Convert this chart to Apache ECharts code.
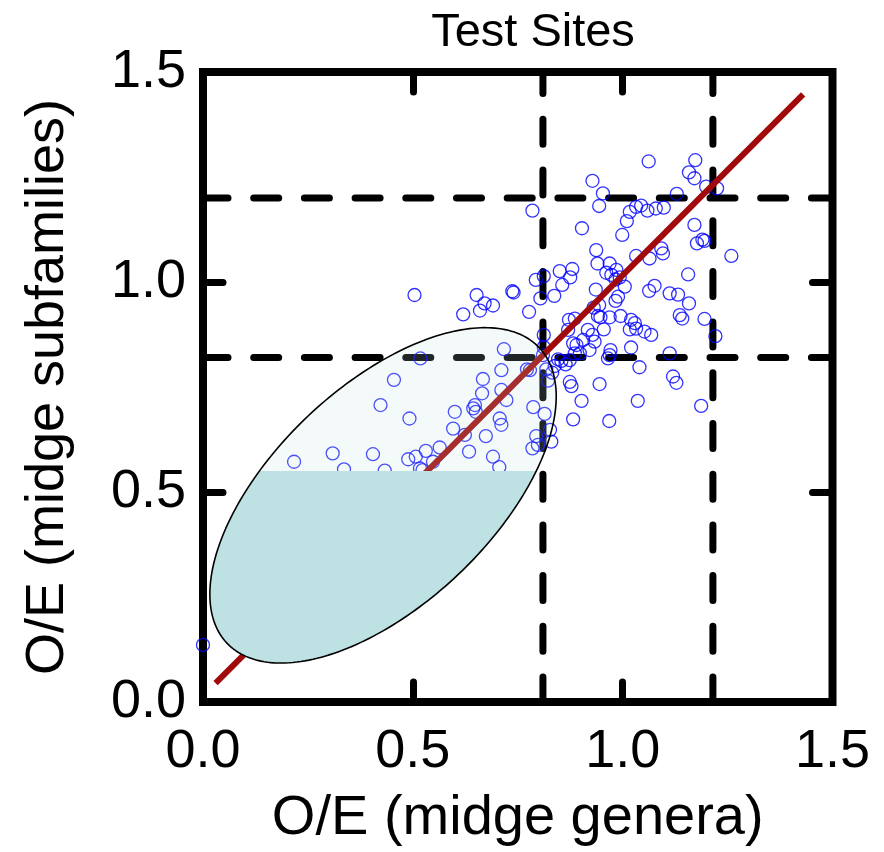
<!DOCTYPE html>
<html>
<head>
<meta charset="utf-8">
<script src="https://cdn.jsdelivr.net/npm/echarts@6/dist/echarts.min.js"></script>
<style>
html,body{margin:0;padding:0;background:#fff;}
#chart{width:884px;height:852px;}
</style>
</head>
<body>
<div id="chart"></div>
<script>
// ---- data ----
const chartTitle = 'Test Sites';
const xAxisName = 'O/E (midge genera)';
const yAxisName = 'O/E (midge subfamilies)';
const axisTicks = [0, 0.5, 1.0, 1.5];

const siteGenera = [
  0.000,0.217,0.309,0.336,0.405,0.433,0.423,0.455,0.492,0.489,
  0.507,0.517,0.523,0.548,0.531,0.564,0.518,0.596,0.600,0.624,
  0.634,0.644,0.648,0.650,0.665,0.667,0.674,0.691,0.706,0.707,
  0.711,0.711,0.711,0.717,0.723,0.779,0.772,0.787,0.785,0.794,
  0.798,0.814,0.827,0.830,0.818,0.832,0.838,0.822,0.810,0.812,
  0.812,0.854,0.846,0.864,0.874,0.874,0.878,0.882,0.886,0.882,
  0.870,0.872,0.886,0.890,0.898,0.906,0.917,0.928,0.921,0.933,
  0.902,0.945,0.968,0.971,0.969,0.965,0.955,0.941,0.947,0.969,
  0.995,0.931,0.944,1.020,1.029,1.017,1.032,1.052,1.068,1.020,
  1.040,1.112,1.120,1.128,1.036,1.187,1.136,1.142,1.195,1.221,
  0.785,0.504,0.652,0.671,0.660,0.691,0.620,0.737,0.740,0.777,
  0.793,0.812,0.850,0.880,0.856,0.875,0.837,0.804,0.928,0.953,
  0.944,0.903,0.937,0.940,0.969,0.961,0.973,0.985,0.993,0.983,
  1.005,0.936,0.989,0.983,0.999,1.010,1.017,1.062,1.173,1.158,
  1.171,1.129,1.199,1.225,1.032,1.044,1.059,1.079,1.098,1.171,
  1.177,1.190,1.195,1.259,1.032,1.064,1.092,1.096,1.156,1.076,
  1.063,1.112,1.132,1.158
];
const siteSubfamilies = [
  0.136,0.572,0.592,0.554,0.590,0.551,0.707,0.767,0.675,0.578,
  0.584,0.556,0.552,0.572,0.598,0.606,0.818,0.651,0.691,0.636,
  0.596,0.699,0.707,0.691,0.735,0.769,0.633,0.584,0.559,0.675,
  0.660,0.743,0.790,0.840,0.719,0.790,0.792,0.702,0.604,0.633,
  0.612,0.686,0.648,0.620,0.792,0.784,0.800,0.765,0.826,0.845,
  0.874,0.812,0.816,0.804,0.814,0.762,0.752,0.673,0.830,0.854,
  0.886,0.910,0.913,0.850,0.830,0.862,0.886,0.874,0.838,0.858,
  0.717,0.757,0.669,0.838,0.826,0.818,0.887,0.919,0.916,0.916,
  0.919,0.939,0.945,0.910,0.902,0.887,0.889,0.882,0.874,0.844,
  0.797,0.830,0.775,0.760,0.717,0.705,0.921,0.913,0.912,0.871,
  1.170,0.969,0.969,0.949,0.932,0.944,0.923,0.978,0.975,0.929,
  1.005,1.014,1.026,1.031,0.993,1.011,0.967,0.961,1.241,1.211,
  1.181,1.128,1.076,1.044,1.044,1.022,1.017,1.029,1.011,1.006,
  0.989,0.982,0.965,0.955,1.112,1.145,1.167,1.287,1.290,1.261,
  1.247,1.210,1.227,1.223,1.179,1.182,1.170,1.175,1.177,1.136,
  1.092,1.101,1.098,1.062,1.062,1.056,1.080,1.068,1.018,0.991,
  0.979,0.973,0.970,0.949
];

// 10th / 90th percentile reference lines
const generaRefLines = [0.81, 1.215];
const subfamRefLines = [0.82, 1.20];

// fitted line endpoints
const fitX = [0.03, 1.43];
const fitY = [0.045, 1.447];

// confidence ellipse parameters
const ellipseCenter = [0.429, 0.492];
const ellipseSemiAxes = [0.512, 0.260];
const ellipseAngleDeg = [43.4];
const shadeLimit = [0.55];

// ---- build ----
const FONT = '"Liberation Sans", Arial, Helvetica, sans-serif';
const sites = siteGenera.map((x, i) => [x, siteSubfamilies[i]]);

function ellipsePoints(n) {
  const th = ellipseAngleDeg[0] * Math.PI / 180;
  const a = ellipseSemiAxes[0], b = ellipseSemiAxes[1];
  const pts = [];
  for (let k = 0; k < n; k++) {
    const t = 2 * Math.PI * k / n;
    pts.push([
      ellipseCenter[0] + a * Math.cos(th) * Math.cos(t) - b * Math.sin(th) * Math.sin(t),
      ellipseCenter[1] + a * Math.sin(th) * Math.cos(t) + b * Math.cos(th) * Math.sin(t)
    ]);
  }
  return pts;
}
function clipBelow(pts, lim) {
  const out = [];
  for (let i = 0; i < pts.length; i++) {
    const p = pts[i], q = pts[(i + 1) % pts.length];
    const pin = p[1] <= lim, qin = q[1] <= lim;
    if (pin) out.push(p);
    if (pin !== qin) {
      const t = (lim - p[1]) / (q[1] - p[1]);
      out.push([p[0] + t * (q[0] - p[0]), lim]);
    }
  }
  return out;
}
const ellPts = ellipsePoints(240);
const ellLower = clipBelow(ellPts, shadeLimit[0]);

const lo = axisTicks[0], hi = axisTicks[axisTicks.length - 1];
const dashStyle = { color: '#000', width: 7, type: [25, 25.7], cap: 'round' };

const refSeries = [];
generaRefLines.forEach(v => refSeries.push({
  type: 'line', data: [[v, lo], [v, hi]], symbol: 'none', z: 1, silent: true,
  lineStyle: dashStyle, animation: false
}));
subfamRefLines.forEach(v => refSeries.push({
  type: 'line', data: [[lo, v], [hi, v]], symbol: 'none', z: 1, silent: true,
  lineStyle: dashStyle, animation: false
}));

const tickStyle = { inside: true, length: 20, lineStyle: { color: '#000', width: 7, cap: 'round' } };
const baseAxis = {
  type: 'value', min: lo, max: hi, interval: 0.5,
  axisLine: { show: false, onZero: false }, splitLine: { show: false },
  axisTick: tickStyle
};

const chart = echarts.init(document.getElementById('chart'), null, { renderer: 'canvas' });
chart.setOption({
  animation: false,
  backgroundColor: '#fff',
  textStyle: { fontFamily: FONT },
  graphic: [{
    type: 'text', x: 533, y: 10,
    style: { text: chartTitle, fontSize: 47, fontFamily: FONT, fill: '#000', align: 'center', verticalAlign: 'top' }
  }],
  grid: {
    left: 203, right: 51.5, top: 72, bottom: 149.5,
    show: true, borderColor: '#000', borderWidth: 8, backgroundColor: 'transparent'
  },
  xAxis: [
    Object.assign({}, baseAxis, {
      position: 'bottom',
      axisLabel: { fontSize: 54, color: '#000', margin: 23, fontFamily: FONT, formatter: v => v.toFixed(1) },
      name: xAxisName, nameLocation: 'middle', nameGap: 89,
      nameTextStyle: { fontSize: 56, color: '#000', fontFamily: FONT }
    }),
    Object.assign({}, baseAxis, { position: 'top', axisLabel: { show: false } })
  ],
  yAxis: [
    Object.assign({}, baseAxis, {
      position: 'left',
      axisLabel: { fontSize: 54, color: '#000', margin: 17, fontFamily: FONT, formatter: v => v.toFixed(1) },
      name: yAxisName, nameLocation: 'middle', nameGap: 128,
      nameTextStyle: { fontSize: 54, color: '#000', fontFamily: FONT }
    }),
    Object.assign({}, baseAxis, { position: 'right', axisLabel: { show: false } })
  ],
  series: refSeries.concat([
    {
      type: 'scatter', data: sites, symbol: 'circle', symbolSize: 13, z: 2,
      itemStyle: { color: 'rgba(0,0,0,0)', borderColor: '#0000ff', borderWidth: 1.3 },
      emphasis: { disabled: true }, silent: true
    },
    {
      type: 'line', data: [[fitX[0], fitY[0]], [fitX[1], fitY[1]]], symbol: 'none', z: 3, silent: true,
      lineStyle: { color: '#a00a0a', width: 6 }
    },
    {
      type: 'custom', z: 4, silent: true,
      data: [[ellipseCenter[0], ellipseCenter[1]]],
      renderItem: function (params, api) {
        const full = ellPts.map(p => api.coord(p));
        const lower = ellLower.map(p => api.coord(p));
        return {
          type: 'group',
          children: [
            { type: 'polygon', shape: { points: full }, style: { fill: 'rgba(190,225,227,0.17)', stroke: null } },
            { type: 'polygon', shape: { points: lower }, style: { fill: '#bee1e3', stroke: null } },
            { type: 'polygon', shape: { points: full }, style: { fill: null, stroke: '#000', lineWidth: 1.6 } }
          ]
        };
      }
    }
  ])
});
</script>
</body>
</html>
